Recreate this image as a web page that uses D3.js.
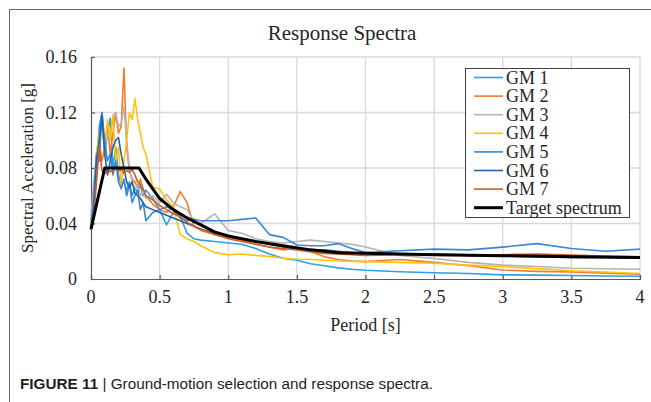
<!DOCTYPE html>
<html>
<head>
<meta charset="utf-8">
<script src="https://cdn.jsdelivr.net/npm/d3@7"></script>
<style>
  body { margin: 0; background: #fff; }
  svg { display: block; }
</style>
</head>
<body>
<svg id="chart" width="651" height="402"></svg>
<script>
// periods [s] shared by all ground motions
let periods = [0, 0.02, 0.04, 0.06, 0.08, 0.1, 0.12, 0.14, 0.16, 0.18, 0.2, 0.22, 0.24, 0.26, 0.28, 0.3,
    0.32, 0.34, 0.36, 0.38, 0.4, 0.45, 0.5, 0.55, 0.6, 0.65, 0.7, 0.75, 0.8, 0.9, 1.0, 1.1, 1.2, 1.3, 1.4,
    1.5, 1.6, 1.7, 1.8, 1.9, 2.0, 2.25, 2.5, 2.75, 3.0, 3.25, 3.5, 3.75, 4.0];

let gm1 = [0.042, 0.06, 0.085, 0.11, 0.12, 0.09, 0.105, 0.116, 0.08, 0.095, 0.075, 0.068, 0.07, 0.064, 0.07, 0.06,
    0.066, 0.062, 0.068, 0.06, 0.064, 0.058, 0.05, 0.039, 0.048, 0.045, 0.033, 0.029, 0.028, 0.027, 0.026, 0.025,
    0.022, 0.018, 0.015, 0.0135, 0.011, 0.0095, 0.008, 0.007, 0.0063, 0.0052, 0.0045, 0.004, 0.003, 0.0028,
    0.0025, 0.0022, 0.002];
let gm2 = [0.035, 0.05, 0.075, 0.1, 0.085, 0.095, 0.11, 0.09, 0.105, 0.12, 0.105, 0.11, 0.152, 0.095, 0.078, 0.072,
    0.07, 0.066, 0.072, 0.064, 0.06, 0.054, 0.05, 0.048, 0.052, 0.063, 0.055, 0.038, 0.035, 0.032, 0.03, 0.028,
    0.025, 0.023, 0.021, 0.0225, 0.02, 0.016, 0.014, 0.013, 0.0125, 0.014, 0.012, 0.0095, 0.0065, 0.0055, 0.005,
    0.0042, 0.0035];
let gm3 = [0.045, 0.07, 0.09, 0.1, 0.11, 0.095, 0.105, 0.1, 0.118, 0.12, 0.11, 0.112, 0.124, 0.1, 0.079, 0.07,
    0.065, 0.068, 0.06, 0.063, 0.058, 0.06, 0.055, 0.061, 0.055, 0.052, 0.05, 0.042, 0.04, 0.047, 0.035, 0.033,
    0.029, 0.027, 0.026, 0.027, 0.028, 0.027, 0.026, 0.025, 0.023, 0.017, 0.0148, 0.012, 0.01, 0.009, 0.0077,
    0.0074, 0.007];
let gm4 = [0.04, 0.055, 0.09, 0.105, 0.11, 0.095, 0.115, 0.1, 0.118, 0.085, 0.095, 0.068, 0.085, 0.1, 0.12, 0.115,
    0.13, 0.115, 0.105, 0.095, 0.09, 0.066, 0.065, 0.057, 0.052, 0.032, 0.029, 0.027, 0.024, 0.019, 0.0175, 0.018,
    0.017, 0.0163, 0.015, 0.0142, 0.014, 0.0135, 0.013, 0.0128, 0.0125, 0.012, 0.0113, 0.01, 0.0089, 0.0075,
    0.006, 0.005, 0.004];
let gm5 = [0.038, 0.06, 0.09, 0.085, 0.12, 0.1, 0.085, 0.09, 0.075, 0.085, 0.07, 0.065, 0.072, 0.06, 0.068, 0.055,
    0.06, 0.064, 0.05, 0.055, 0.042, 0.048, 0.05, 0.052, 0.05, 0.044, 0.042, 0.043, 0.042, 0.042, 0.042, 0.043,
    0.044, 0.032, 0.03, 0.0245, 0.024, 0.024, 0.0255, 0.022, 0.019, 0.0204, 0.0215, 0.021, 0.023, 0.0255, 0.022,
    0.02, 0.0215];
let gm6 = [0.036, 0.05, 0.085, 0.1, 0.118, 0.09, 0.075, 0.085, 0.095, 0.1, 0.102, 0.09, 0.08, 0.07, 0.066, 0.07,
    0.062, 0.06, 0.058, 0.055, 0.052, 0.05, 0.048, 0.046, 0.044, 0.042, 0.04, 0.038, 0.036, 0.033, 0.031, 0.029,
    0.027, 0.025, 0.023, 0.022, 0.021, 0.021, 0.02, 0.019, 0.0185, 0.018, 0.0178, 0.017, 0.0165, 0.016, 0.0155,
    0.0155, 0.015];
let gm7 = [0.035, 0.045, 0.07, 0.095, 0.078, 0.077, 0.076, 0.078, 0.077, 0.08, 0.078, 0.079, 0.076, 0.078, 0.077,
    0.079, 0.075, 0.07, 0.068, 0.065, 0.06, 0.057, 0.053, 0.05, 0.047, 0.045, 0.041, 0.038, 0.036, 0.032, 0.029,
    0.027, 0.025, 0.023, 0.022, 0.021, 0.0195, 0.0185, 0.018, 0.0175, 0.017, 0.0175, 0.018, 0.0175, 0.0175, 0.018,
    0.0172, 0.0165, 0.016];

// target spectrum has its own breakpoints
let targetPeriods = [0, 0.1, 0.35, 0.4, 0.5, 0.6, 0.7, 0.8, 0.9, 1.0, 1.2, 1.4, 1.6, 1.8, 2.0, 2.5, 3.0, 3.5, 4.0];
let targetValues = [0.036, 0.08, 0.08, 0.072, 0.058, 0.05, 0.044, 0.039, 0.034, 0.031, 0.027, 0.024, 0.021, 0.019,
    0.0185, 0.0175, 0.0168, 0.016, 0.0155];

let seriesNames = ["GM 1", "GM 2", "GM 3", "GM 4", "GM 5", "GM 6", "GM 7", "Target spectrum"];
let colors = ["#2f9fe3", "#f57a2a", "#b4b4b4", "#ffc20e", "#3b86d6", "#2461aa", "#c9602c", "#000000"];

let xTicks = [0, 0.5, 1, 1.5, 2, 2.5, 3, 3.5, 4];
let yTicks = [0, 0.04, 0.08, 0.12, 0.16];

let series = [gm1, gm2, gm3, gm4, gm5, gm6, gm7].map((vals) => periods.map((p, i) => [p, vals[i]]));
series.push(targetPeriods.map((p, i) => [p, targetValues[i]]));

let margin = { left: 91, right: 11, top: 57, bottom: 123 };
let width = 651, height = 402;

let svg = d3.select("#chart");
let serif = "'Liberation Serif', 'Times New Roman', serif";

// outer frame of the figure panel
svg.append("path")
    .attr("d", "M9.5,402V9.5H651")
    .attr("fill", "none")
    .attr("stroke", "#666")
    .attr("stroke-width", 1);

let x = d3.scaleLinear().domain([0, 4]).range([margin.left, width - margin.right]);
let y = d3.scaleLinear().domain([0, 0.16]).range([height - margin.bottom, margin.top]);

// gridlines
svg.append("g")
    .selectAll("line.h")
    .data(yTicks.filter((d) => d > 0))
    .enter()
    .append("line")
    .attr("x1", x(0)).attr("x2", x(4))
    .attr("y1", (d) => y(d)).attr("y2", (d) => y(d))
    .attr("stroke", "#d9d9d9").attr("stroke-width", 1.3);

svg.append("g")
    .selectAll("line.v")
    .data(xTicks.filter((d) => d > 0))
    .enter()
    .append("line")
    .attr("x1", (d) => x(d)).attr("x2", (d) => x(d))
    .attr("y1", y(0)).attr("y2", y(0.16))
    .attr("stroke", "#d9d9d9").attr("stroke-width", 1.3);

// axes, ticks pointing inwards
let xAxis = svg.append("g")
    .attr("transform", `translate(0,${y(0)})`)
    .call(d3.axisTop(x).tickValues(xTicks).tickSize(4).tickFormat(""));
let yAxis = svg.append("g")
    .attr("transform", `translate(${x(0)},0)`)
    .call(d3.axisRight(y).tickValues(yTicks).tickSize(4).tickFormat(""));

[xAxis, yAxis].forEach((a) => {
    a.selectAll("path, line").attr("stroke", "#595959").attr("stroke-width", 1.2);
});

// tick labels
svg.append("g")
    .selectAll("text")
    .data(xTicks)
    .enter()
    .append("text")
    .attr("x", (d) => x(d))
    .attr("y", y(0) + 24)
    .attr("text-anchor", "middle")
    .style("font-family", serif).style("font-size", "18px").attr("fill", "#262626")
    .text((d) => d);

svg.append("g")
    .selectAll("text")
    .data(yTicks)
    .enter()
    .append("text")
    .attr("x", x(0) - 14)
    .attr("y", (d) => y(d) + 6)
    .attr("text-anchor", "end")
    .style("font-family", serif).style("font-size", "18px").attr("fill", "#262626")
    .text((d) => (d === 0 ? "0" : d.toFixed(2)));

// curves
let line = d3.line().x((d) => x(d[0])).y((d) => y(d[1]));

svg.append("g")
    .selectAll("path")
    .data(series)
    .enter()
    .append("path")
    .attr("d", line)
    .attr("fill", "none")
    .attr("stroke", (d, i) => colors[i])
    .attr("stroke-width", (d, i) => (i === 7 ? 3 : 1.6))
    .attr("stroke-linejoin", "round");

// titles
svg.append("text")
    .attr("x", 342).attr("y", 40)
    .attr("text-anchor", "middle")
    .style("font-family", serif).style("font-size", "21px").attr("fill", "#262626")
    .text("Response Spectra");

svg.append("text")
    .attr("x", (x(0) + x(4)) / 2).attr("y", 331)
    .attr("text-anchor", "middle")
    .style("font-family", serif).style("font-size", "18px").attr("fill", "#262626")
    .text("Period [s]");

svg.append("text")
    .attr("transform", `translate(33,${(y(0) + y(0.16)) / 2}) rotate(-90)`)
    .attr("text-anchor", "middle")
    .style("font-family", serif).style("font-size", "17px").attr("fill", "#262626")
    .text("Spectral Acceleration [g]");

// legend
let legend = svg.append("g").attr("transform", "translate(465,68)");
legend.append("rect")
    .attr("x", 0.5).attr("y", 0.5)
    .attr("width", 164).attr("height", 149)
    .attr("fill", "#fff").attr("stroke", "#404040").attr("stroke-width", 1);

let rows = legend.selectAll("g.row")
    .data(seriesNames)
    .enter()
    .append("g")
    .attr("transform", (d, i) => `translate(0,${9.5 + i * 18.6})`);

rows.append("line")
    .attr("x1", 9).attr("x2", 38)
    .attr("stroke", (d, i) => colors[i])
    .attr("stroke-width", (d, i) => (i === 7 ? 3 : 1.6));

rows.append("text")
    .attr("x", 41).attr("y", 6)
    .style("font-family", serif).style("font-size", "18px").attr("fill", "#262626")
    .text((d) => d);

// caption
let caption = svg.append("text")
    .attr("x", 20).attr("y", 389)
    .style("font-family", "'Liberation Sans', Arial, sans-serif").style("font-size", "15.3px").attr("fill", "#231f20");
caption.append("tspan").style("font-weight", "bold").text("FIGURE 11");
caption.append("tspan").text(" | Ground-motion selection and response spectra.");
</script>
</body>
</html>
